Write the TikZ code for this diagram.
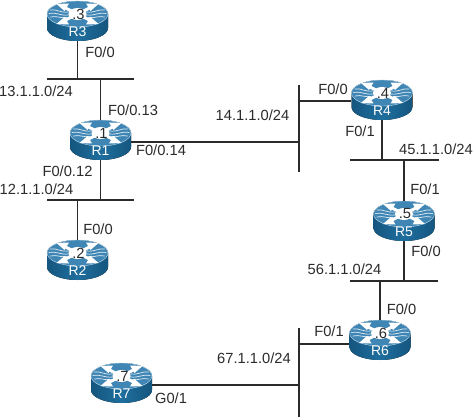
\documentclass[tikz,border=0pt]{standalone}
\usepackage{fontspec}
\setmainfont{Liberation Sans}
\definecolor{rbody}{HTML}{1F6E9E}
\definecolor{rtop}{HTML}{3F86B5}
\definecolor{rdark}{HTML}{14567F}
\definecolor{rline}{HTML}{2B2B2B}
\tikzset{
  wire/.style={draw=rline,line width=1.25pt},
  lbl/.style={font=\fontsize{14.7}{15}\selectfont,text=rline,inner sep=0pt,anchor=center},
  routerbox/.style={minimum width=61pt,minimum height=40pt,inner sep=0pt},
  xarm/.style={white,line width=3pt},
  xhead/.style={fill=white,draw=none},
  swoosh/.style={draw=white!85!rtop,line width=.7pt,line cap=round},
  pics/routericon/.style n args={2}{code={
    \fill[left color=rdark,right color=rdark,middle color=rbody]
      (-30.5,-7) -- (-30.5,7) arc[start angle=180,end angle=0,x radius=30.5,y radius=13]
      -- (30.5,-7) arc[start angle=0,end angle=-180,x radius=30.5,y radius=13] -- cycle;
    \fill[rtop] (0,-7) ellipse[x radius=30.5,y radius=13];
    \draw[white!70!rtop,line width=.4pt] (0,-7) ellipse[x radius=30.5,y radius=13];
    \foreach \s in {-1,1}{
      \draw[swoosh] (\s*27,-11) .. controls (\s*20,-12) and (\s*18,-8) .. (\s*9,-9);
      \draw[swoosh] (\s*28.5,-7.5) .. controls (\s*20,-9) and (\s*18,-5) .. (\s*9,-6);
      \draw[swoosh] (\s*27,-4) .. controls (\s*20,-5.5) and (\s*18,-2.5) .. (\s*11,-3.5);
    }
    \draw[xarm] (-14,-14) -- (14,0);
    \draw[xarm] (14,-14) -- (-14,0);
    \fill[xhead] (-21,-17) -- (-8.5,-17.5) -- (-13,-10) -- cycle;
    \fill[xhead] (21,-17) -- (8.5,-17.5) -- (13,-10) -- cycle;
    \fill[xhead] (-21,3) -- (-8.5,3.5) -- (-13,-4) -- cycle;
    \fill[xhead] (21,3) -- (8.5,3.5) -- (13,-4) -- cycle;
    \fill[white] (0,-7) ellipse[x radius=9,y radius=6];
    \node[inner sep=0pt,font=\fontsize{14.7}{15}\selectfont,text=rline] at (1,-7) {#1};
    \node[inner sep=0pt,font=\fontsize{14}{15}\selectfont,text=white] at (0,11) {#2};
  }}
}
\newcommand{\routerat}[4]{%
  \pic at (#2,#3) {routericon={#4}{#1}};
  \node[routerbox] (#1) at (#2,#3) {};
}
\begin{document}
\begin{tikzpicture}[x=1pt,y=-1pt]
\useasboundingbox (0,0) rectangle (474,417);
\routerat{R3}{77.5}{21}{.3}
\routerat{R1}{100.5}{140}{.1}
\routerat{R2}{77.5}{260}{.2}
\routerat{R4}{382}{100}{.4}
\routerat{R5}{404}{221}{.5}
\routerat{R6}{380}{340}{.6}
\routerat{R7}{121.5}{383}{.7}
% buses
\coordinate (b13l) at (47,79);   \coordinate (b13r) at (134,79);
\coordinate (b12l) at (47,200);  \coordinate (b12r) at (134,200);
\coordinate (b14t) at (299,85);  \coordinate (b14b) at (299,172);
\coordinate (b45l) at (350,160); \coordinate (b45r) at (439,160);
\coordinate (b56l) at (350,281); \coordinate (b56r) at (438,281);
\coordinate (b67t) at (299,328); \coordinate (b67b) at (299,417);
\draw[wire] (b13l) -- (b13r);
\draw[wire] (b12l) -- (b12r);
\draw[wire] (b14t) -- (b14b);
\draw[wire] (b45l) -- (b45r);
\draw[wire] (b56l) -- (b56r);
\draw[wire] (b67t) -- (b67b);
% links
\draw[wire] (R3.south) -- (R3.south |- b13l);
\draw[wire] (R1.north) -- (R1.north |- b13l);
\draw[wire] (R1.south) -- (R1.south |- b12l);
\draw[wire] (R2.north) -- (R2.north |- b12l);
\coordinate (j14a) at (299,142);
\coordinate (j14b) at (299,101);
\draw[wire] (R1.east |- j14a) -- (j14a);
\draw[wire] (R4.west |- j14b) -- (j14b);
\draw[wire] (R4.south) -- (R4.south |- b45l);
\draw[wire] (R5.north) -- (R5.north |- b45l);
\draw[wire] (R5.south) -- (R5.south |- b56l);
\draw[wire] (R6.north) -- (R6.north |- b56l);
\coordinate (j67a) at (299,344);
\coordinate (j67b) at (299,385);
\draw[wire] (R6.west |- j67a) -- (j67a);
\draw[wire] (R7.east |- j67b) -- (j67b);
% labels
\node[lbl] (l1) at (100,52) {F0/0};
\node[lbl] (l2) at (36,91) {13.1.1.0/24};
\node[lbl] (l3) at (133,110) {F0/0.13};
\node[lbl] (l4) at (161,150) {F0/0.14};
\node[lbl] (l5) at (67.5,171) {F0/0.12};
\node[lbl] (l6) at (36.5,189) {12.1.1.0/24};
\node[lbl] (l7) at (98,229) {F0/0};
\node[lbl] (l8) at (333,89) {F0/0};
\node[lbl] (l9) at (252.5,115) {14.1.1.0/24};
\node[lbl] (l10) at (360,131) {F0/1};
\node[lbl] (l11) at (436,149) {45.1.1.0/24};
\node[lbl] (l12) at (425,189) {F0/1};
\node[lbl] (l13) at (426,251) {F0/0};
\node[lbl] (l14) at (344.5,269) {56.1.1.0/24};
\node[lbl] (l15) at (401.5,309) {F0/0};
\node[lbl] (l16) at (329,331) {F0/1};
\node[lbl] (l17) at (254,358) {67.1.1.0/24};
\node[lbl] (l18) at (171,398) {G0/1};
\end{tikzpicture}
\end{document}
